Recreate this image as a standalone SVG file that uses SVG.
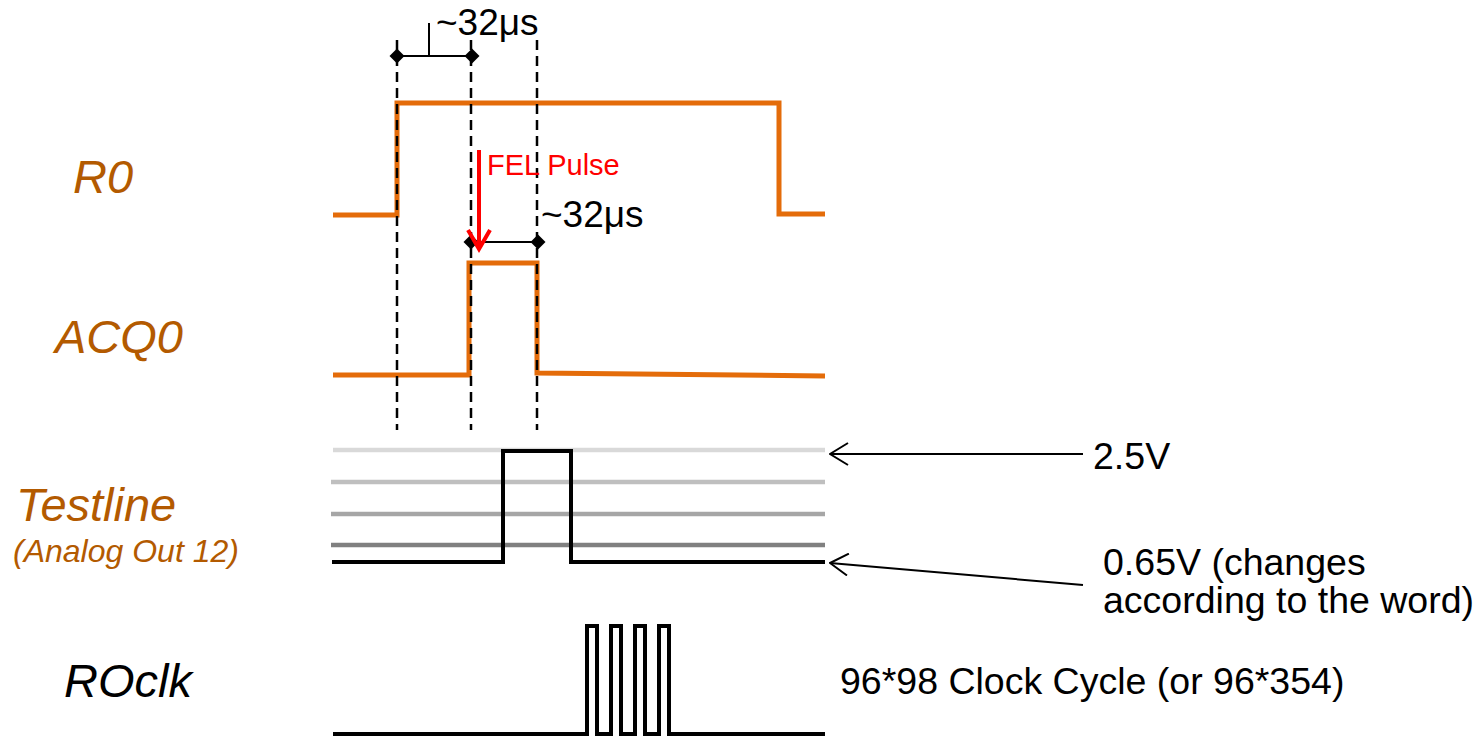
<svg xmlns="http://www.w3.org/2000/svg" width="1483" height="736" viewBox="0 0 1483 736">
<style>
.lbl{font-family:"Liberation Sans",Arial,sans-serif;font-style:italic;font-size:47px;fill:#B35A00}
.txt{font-family:"Liberation Sans",Arial,sans-serif;fill:#000}
.sig{fill:none;stroke:#E46C0A;stroke-width:5;stroke-linejoin:miter}
.blk{fill:none;stroke:#000;stroke-width:4;stroke-linejoin:miter}
.dash{fill:none;stroke:#000;stroke-width:2.5;stroke-dasharray:10 6}
.dim{fill:none;stroke:#000;stroke-width:2}
.grey{fill:none;stroke-width:4.5}
</style>
<defs>
<marker id="dia" viewBox="-8 -8 16 16" markerWidth="16" markerHeight="16" markerUnits="userSpaceOnUse" refX="0" refY="0" orient="auto">
<path d="M-7.5,0 L0,-7.5 L7.5,0 L0,7.5 Z" fill="#000"/>
</marker>
<marker id="open" viewBox="0 0 20 24" markerWidth="20" markerHeight="24" markerUnits="userSpaceOnUse" refX="19" refY="12" orient="auto">
<path d="M1,1 L19,12 L1,23" fill="none" stroke="#000" stroke-width="2"/>
</marker>
</defs>

<g id="labels">
<text class="lbl" x="73" y="193">R0</text>
<text class="lbl" x="55" y="353">ACQ0</text>
<text class="lbl" x="16" y="521">Testline</text>
<text class="lbl" x="13" y="562" style="font-size:32px">(Analog Out 12)</text>
<text class="lbl" x="64" y="697" style="fill:#000">ROclk</text>
</g>

<g id="R0">
<path class="sig" d="M333,215 H397 V103 H779 V214 H825"/>
</g>

<g id="ACQ0">
<path class="sig" d="M333,375 H469 V263 H537 V373 L825,376"/>
</g>

<g id="Testline">
<line class="grey" x1="333" y1="450" x2="825" y2="450" stroke="#D9D9D9"/>
<line class="grey" x1="331" y1="482" x2="825" y2="482" stroke="#BFBFBF"/>
<line class="grey" x1="331" y1="514" x2="825" y2="514" stroke="#A6A6A6"/>
<line class="grey" x1="331" y1="545" x2="825" y2="545" stroke="#808080"/>
<path class="blk" d="M332,562 H503 V451 H571 V562 H825"/>
</g>

<g id="ROclk">
<path class="blk" style="stroke-width:4" d="M333,734 H587 V626 H597 V734 H611 V626 H621 V734 H635 V626 H645 V734 H659 V626 H669 V734 H825"/>
</g>

<g id="connectors">
<line class="dash" x1="397" y1="40" x2="397" y2="430"/>
<line class="dash" x1="471" y1="40" x2="471" y2="430"/>
<line class="dash" x1="537" y1="40" x2="537" y2="430"/>
<line class="dim" x1="397" y1="56" x2="472" y2="56" marker-start="url(#dia)" marker-end="url(#dia)"/>
<line class="dim" x1="429" y1="23" x2="429" y2="56"/>
<line class="dim" x1="471" y1="242" x2="538" y2="242" marker-start="url(#dia)" marker-end="url(#dia)"/>
<g id="fel-arrow" fill="none" stroke="#FF0000" stroke-width="4">
<line x1="479" y1="150" x2="479" y2="248"/>
<path d="M468,230 L479,249 L490,230"/>
</g>
<line class="dim" x1="1083" y1="454" x2="830" y2="454" marker-end="url(#open)"/>
<line class="dim" x1="1083" y1="585" x2="830" y2="563" marker-end="url(#open)"/>
</g>

<g id="texts">
<text class="txt" x="436" y="35" font-size="37">~32μs</text>
<text class="txt" x="541" y="227" font-size="37">~32μs</text>
<text class="txt" x="487" y="175" font-size="29" style="fill:#FF0000">FEL Pulse</text>
<text class="txt" x="1093" y="469" font-size="37.5">2.5V</text>
<text class="txt" x="1103" y="575" font-size="37.5">0.65V (changes</text>
<text class="txt" x="1103" y="613" font-size="37.5">according to the word)</text>
<text class="txt" x="840" y="694" font-size="37.5">96*98 Clock Cycle (or 96*354)</text>
</g>
</svg>
